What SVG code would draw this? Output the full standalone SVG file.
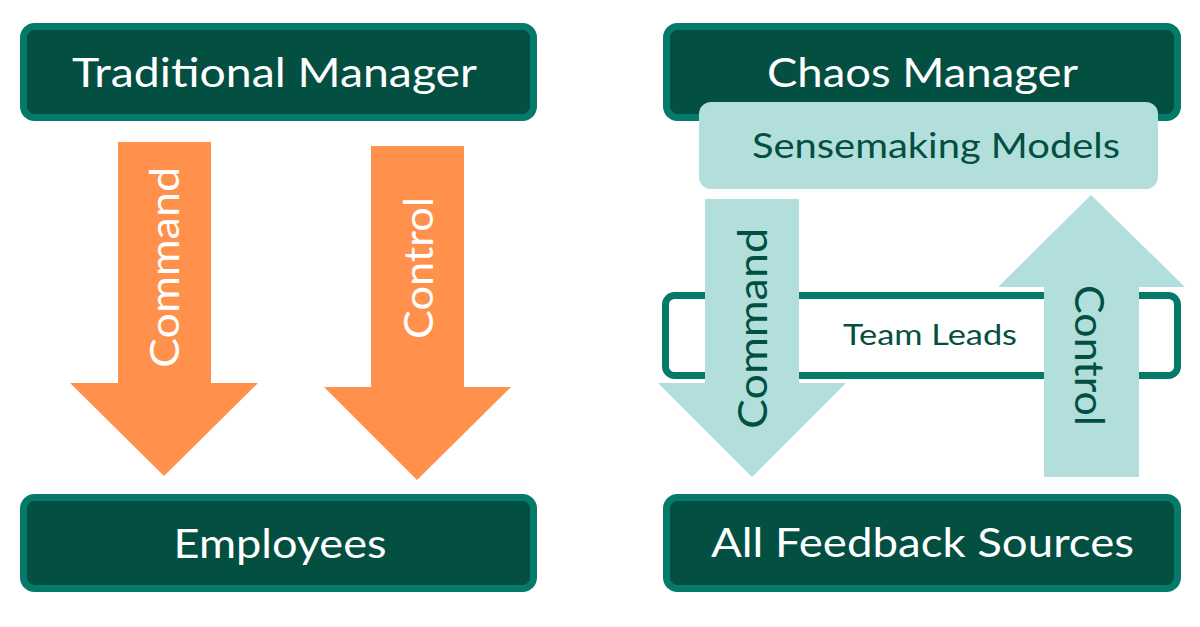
<svg xmlns="http://www.w3.org/2000/svg" width="1200" height="627" viewBox="0 0 1200 627">
<style>
.box{fill:#034f41;stroke:#067a69;stroke-width:7}
.outline{fill:#ffffff;stroke:#067a69;stroke-width:7}
.sense{fill:#b2dfdb}
.orange{fill:#ff914d}
.teal{fill:#b2dfdb}
text{font-family:Lato,"Open Sans","DejaVu Sans",sans-serif;text-anchor:middle}
.wt{fill:#ffffff;font-size:40px}
.dt{fill:#034f41}
</style>
<rect width="1200" height="627" fill="#ffffff"/>
<g id="traditional-manager">
<rect class="box" x="23.5" y="26.5" width="510" height="91" rx="11"/>
<text class="wt" x="274.5" y="87" textLength="405" lengthAdjust="spacingAndGlyphs">Traditional Manager</text>
</g>
<g id="employees">
<rect class="box" x="23.5" y="497.5" width="510" height="91" rx="11"/>
<text class="wt" x="280" y="558" textLength="213" lengthAdjust="spacingAndGlyphs">Employees</text>
</g>
<g id="chaos-manager">
<rect class="box" x="666.5" y="26.5" width="511" height="91" rx="11"/>
<text class="wt" x="922.5" y="87" textLength="311" lengthAdjust="spacingAndGlyphs">Chaos Manager</text>
</g>
<g id="sensemaking-models">
<rect class="sense" x="699" y="102" width="459" height="87" rx="12"/>
<text class="dt" x="936" y="158" font-size="34" textLength="368" lengthAdjust="spacingAndGlyphs">Sensemaking Models</text>
</g>
<g id="team-leads">
<rect class="outline" x="665.5" y="295.5" width="512" height="80" rx="9"/>
<text class="dt" x="930" y="345" font-size="29" textLength="174" lengthAdjust="spacingAndGlyphs">Team Leads</text>
</g>
<g id="all-feedback-sources">
<rect class="box" x="666.5" y="497.5" width="511" height="91" rx="11"/>
<text class="wt" x="922.5" y="557" textLength="423" lengthAdjust="spacingAndGlyphs">All Feedback Sources</text>
</g>
<g id="connectors">
<g id="trad-command">
<polygon class="orange" points="118,142 211,142 211,383 258,383 164,476 70,383 118,383"/>
<text class="wt" transform="translate(179,267.5) rotate(-90)" textLength="201" lengthAdjust="spacingAndGlyphs">Command</text>
</g>
<g id="trad-control">
<polygon class="orange" points="371,146 464,146 464,387 511,387 417,480 324,387 371,387"/>
<text class="wt" transform="translate(433,268) rotate(-90)" textLength="142" lengthAdjust="spacingAndGlyphs">Control</text>
</g>
<g id="chaos-command">
<polygon class="teal" points="705,199 799,199 799,383 846,383 752,477 658,383 705,383"/>
<text class="dt" font-size="40" transform="translate(767,328.5) rotate(-90)" textLength="201" lengthAdjust="spacingAndGlyphs">Command</text>
</g>
<g id="chaos-control">
<polygon class="teal" points="1091,195 1185,287 1139,287 1139,477 1044,477 1044,287 998,287"/>
<text class="dt" font-size="40" transform="translate(1075,355.5) rotate(90)" textLength="141" lengthAdjust="spacingAndGlyphs">Control</text>
</g>
</g>
</svg>
